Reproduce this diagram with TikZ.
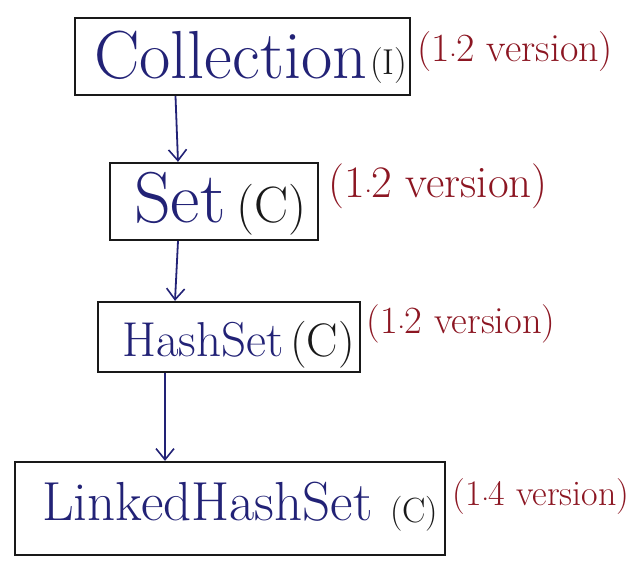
\documentclass[tikz,border=0pt]{standalone}
\usetikzlibrary{arrows.meta}
\definecolor{ink}{RGB}{34,34,118}
\definecolor{redink}{RGB}{140,22,34}
\definecolor{pen}{RGB}{25,25,25}
\tikzset{
  box/.style={draw=pen, line width=2.3pt, inner sep=0pt},
  word/.style={text=ink, inner sep=0pt, anchor=base west},
  kind/.style={text=pen, inner sep=0pt, anchor=base west},
  ver/.style={text=redink, inner sep=0pt},
  link/.style={draw=ink, line width=1.8pt, -{Straight Barb[length=11pt,width=18pt,line width=1.6pt]}},
}
\begin{document}
\begin{tikzpicture}[x=1pt,y=-1pt]
\useasboundingbox[fill=white] (0,0) rectangle (636,565);

% boxes
\node[box, minimum width=335pt, minimum height=77pt] (coll) at (242.5,56.5) {};
\node[box, minimum width=208pt, minimum height=77pt] (set) at (214,201.5) {};
\node[box, minimum width=262pt, minimum height=70pt] (hash) at (229,337) {};
\node[box, minimum width=430pt, minimum height=93pt] (linked) at (230,508.5) {};

% class names
\node[word] (tcoll) at (94,78) {\fontsize{68}{72}\selectfont Collection};
\node[kind] (icoll) at (370,74) {\fontsize{36}{40}\selectfont (I)};
\node[word] (tset) at (134,222) {\fontsize{72}{76}\selectfont Set};
\node[kind] (cset) at (236,222) {\fontsize{51}{56}\selectfont (C)};
\node[word] (thash) at (122,356) {\fontsize{49}{54}\selectfont HashSet};
\node[kind] (chash) at (290,356) {\fontsize{47}{52}\selectfont (C)};
\node[word] (tlinked) at (42,520) {\fontsize{55}{60}\selectfont LinkedHashSet};
\node[kind] (clinked) at (390,522) {\fontsize{35}{40}\selectfont (C)};

% version notes
\node[ver] (v1) at (515,52) {\fontsize{40}{44}\selectfont (1$\cdot$2 version)};
\node[ver] (v2) at (438,186) {\fontsize{45}{50}\selectfont (1$\cdot$2 version)};
\node[ver] (v3) at (461,324) {\fontsize{38.5}{42}\selectfont (1$\cdot$2 version)};
\node[ver] (v4) at (541,497) {\fontsize{36}{40}\selectfont (1$\cdot$4 version)};

% inheritance arrows
\draw[link] ([xshift=-67pt]coll.south) -- ([xshift=-36pt]set.north);
\draw[link] ([xshift=-36pt]set.south) -- ([xshift=-54pt]hash.north);
\draw[link] ([xshift=-64pt]hash.south) -- ([xshift=-65pt]linked.north);
\end{tikzpicture}
\end{document}
